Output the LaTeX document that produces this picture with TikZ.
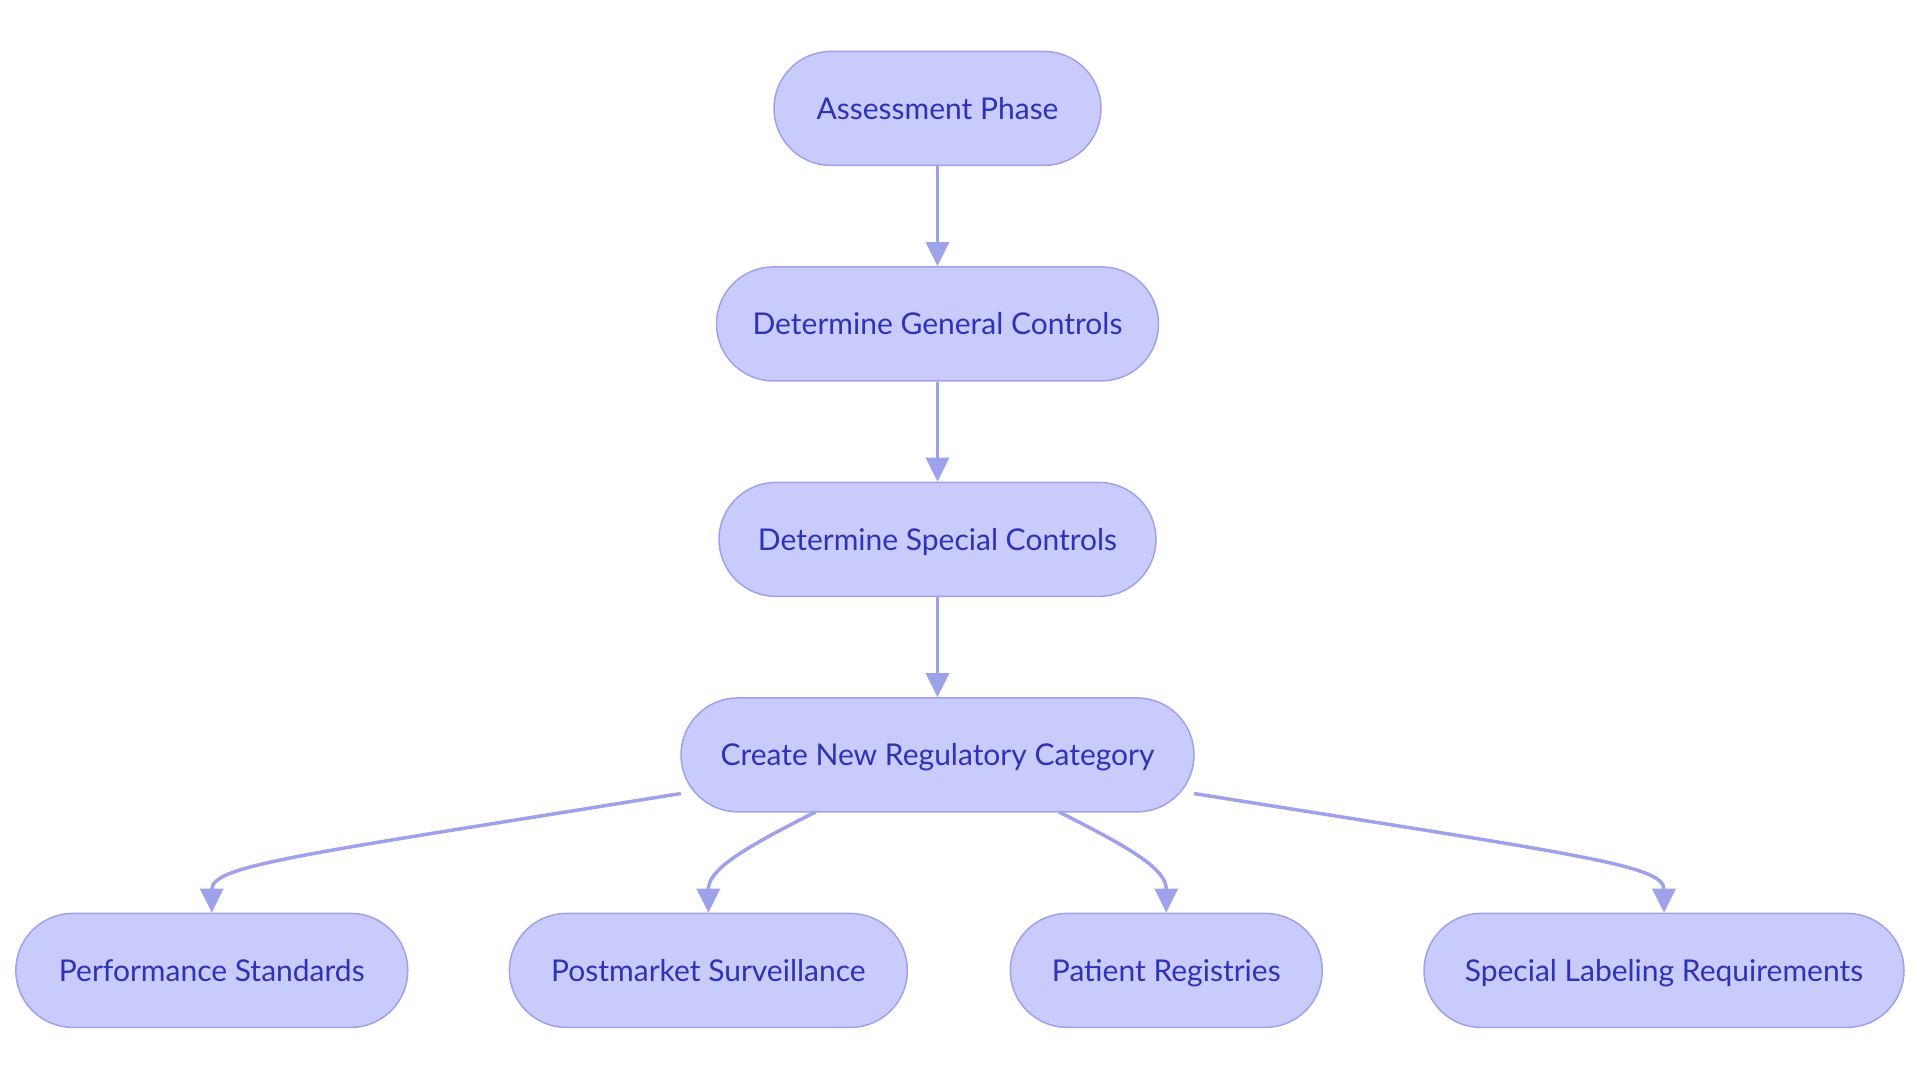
\documentclass[tikz,border=0pt]{standalone}
\usepackage{fontspec}
\setmainfont{Lato}
\usetikzlibrary{arrows.meta}
\definecolor{nfill}{HTML}{C9CBFC}
\definecolor{nline}{HTML}{9EA2EA}
\definecolor{ntext}{HTML}{2E32B5}
\tikzset{
  pill/.style={draw=nline, line width=1.5pt, fill=nfill, rounded corners=57pt,
    minimum height=114pt, inner sep=0pt, text=ntext,
    text height=21.5pt, text depth=0pt,
    font=\fontsize{30}{36}\selectfont},
  conn/.style={draw=nline, line width=3.5pt, -{Triangle[length=24pt,width=23pt]}}
}
\begin{document}
\begin{tikzpicture}[x=1pt,y=-1pt]
\useasboundingbox (0,0) rectangle (1920,1080);
\node[pill, minimum width=327pt] (a) at (937.5,108.4) {Assessment Phase};
\node[pill, minimum width=442pt] (g) at (937.5,323.9) {Determine General Controls};
\node[pill, minimum width=437pt] (s) at (937.5,539.4) {Determine Special Controls};
\node[pill, minimum width=513pt] (c) at (937.5,754.9) {Create New Regulatory Category};
\node[pill, minimum width=392pt] (p1) at (211.8,970.4) {Performance Standards};
\node[pill, minimum width=398pt] (p2) at (708.4,970.4) {Postmarket Surveillance};
\node[pill, minimum width=312pt] (p3) at (1166.3,970.4) {Patient Registries};
\node[pill, minimum width=480pt] (p4) at (1664,970.4) {Special Labeling Requirements};
\draw[conn] (a) -- (g);
\draw[conn] (g) -- (s);
\draw[conn] (s) -- (c);
\coordinate (c1) at (680.8,793.5);
\coordinate (c2) at (815.5,812);
\coordinate (c3) at (1059,812);
\coordinate (c4) at (1194,793.5);
\draw[conn] (c1) .. controls (300,855) and (211.8,865) .. (p1.north);
\draw[conn] (c2) .. controls (740,850) and (708.4,870) .. (p2.north);
\draw[conn] (c3) .. controls (1135,850) and (1166.3,870) .. (p3.north);
\draw[conn] (c4) .. controls (1580,855) and (1664,865) .. (p4.north);
\end{tikzpicture}
\end{document}
